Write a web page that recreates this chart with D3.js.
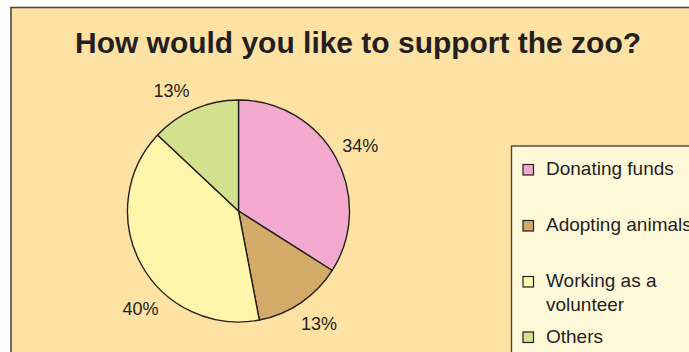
<!DOCTYPE html>
<html>
<head>
<meta charset="utf-8">
<script src="https://cdn.jsdelivr.net/npm/d3@7"></script>
<style>
  html, body { margin: 0; padding: 0; background: #fff; }
  svg { display: block; }
</style>
</head>
<body>
<script>
const title = 'How would you like to support the zoo?';
const categories = ['Donating funds', 'Adopting animals', 'Working as a volunteer', 'Others'];
const values = [34, 13, 40, 13];
const legendLines = [['Donating funds'], ['Adopting animals'], ['Working as a', 'volunteer'], ['Others']];
const colors = ['#f4aacf', '#d3aa68', '#fff6ab', '#d3e08e'];

// label placement tweaks (degrees off the slice middle)
const labelNudge = [0.7, -1.5, -16, -5.6];

const width = 689, height = 352;
const cx = 238.5, cy = 211, radius = 111;

const svg = d3.select('body').append('svg')
  .attr('width', width)
  .attr('height', height);

// background panel
svg.append('rect')
  .attr('x', 11).attr('y', 7.5)
  .attr('width', 720).attr('height', 400)
  .style('fill', '#fee2a4')
  .style('stroke', '#4a4540')
  .style('stroke-width', 1.6);

svg.append('text')
  .attr('x', 358).attr('y', 52.5)
  .attr('text-anchor', 'middle')
  .attr('textLength', 566)
  .attr('lengthAdjust', 'spacingAndGlyphs')
  .style('font-family', '"Liberation Sans", Arial, sans-serif')
  .style('font-weight', 'bold')
  .style('font-size', '30px')
  .style('fill', '#231f20')
  .text(title);

const pie = d3.pie().sort(null).value(d => d);
const arcs = pie(values);
const arc = d3.arc().innerRadius(0).outerRadius(radius);

const g = svg.append('g')
  .attr('transform', `translate(${cx},${cy})`);

g.selectAll('path')
  .data(arcs)
  .join('path')
  .attr('d', arc)
  .style('fill', (d, i) => colors[i])
  .style('stroke', '#231f20')
  .style('stroke-width', 1.4)
  .style('stroke-linejoin', 'round');

const labelR = 138;
const labelAngle = (d, i) => (d.startAngle + d.endAngle) / 2 + labelNudge[i] * Math.PI / 180;

g.selectAll('text.pct')
  .data(arcs)
  .join('text')
  .attr('class', 'pct')
  .attr('x', (d, i) => labelR * Math.sin(labelAngle(d, i)))
  .attr('y', (d, i) => -labelR * Math.cos(labelAngle(d, i)))
  .attr('dy', '0.36em')
  .attr('text-anchor', 'middle')
  .style('font-family', '"Liberation Sans", Arial, sans-serif')
  .style('font-size', '18px')
  .style('fill', '#231f20')
  .text(d => d.data + '%');

// legend
const legend = svg.append('g');
legend.append('rect')
  .attr('x', 511.5).attr('y', 146)
  .attr('width', 300).attr('height', 300)
  .style('fill', '#fff9da')
  .style('stroke', '#4a4540')
  .style('stroke-width', 1.4);

const rowBase = [175, 231, 287, 342.5];
const items = legend.selectAll('g.item')
  .data(categories)
  .join('g')
  .attr('class', 'item')
  .attr('transform', (d, i) => `translate(0,${rowBase[i]})`);

items.append('rect')
  .attr('x', 523).attr('y', -10.5)
  .attr('width', 10.5).attr('height', 10.5)
  .style('fill', (d, i) => colors[i])
  .style('stroke', '#231f20')
  .style('stroke-width', 1.2);

items.append('text')
  .attr('x', 546)
  .style('font-family', '"Liberation Sans", Arial, sans-serif')
  .style('font-size', '19px')
  .style('fill', '#231f20')
  .selectAll('tspan')
  .data((d, i) => legendLines[i])
  .join('tspan')
  .attr('x', 546)
  .attr('dy', (d, j) => j === 0 ? 0 : 23.5)
  .text(d => d);
</script>
</body>
</html>
